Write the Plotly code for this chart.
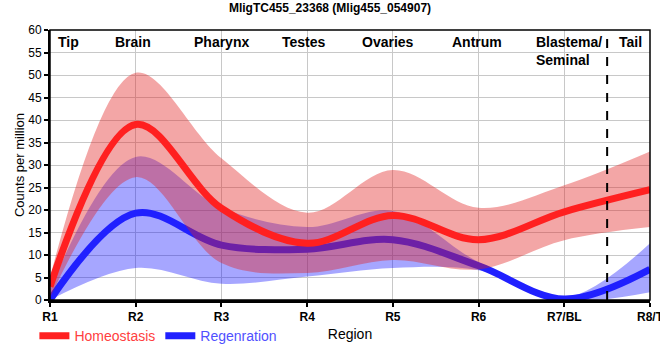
import plotly.graph_objects as go

regions = ["R1", "R2", "R3", "R4", "R5", "R6", "R7/BL", "R8/T"]
tissues = ["Tip", "Brain", "Pharynx", "Testes", "Ovaries", "Antrum", "Blastema/<br>Seminal", "Tail"]
tissue_pos = [0.22, 0.97, 2.0, 2.96, 3.94, 4.98, 5.65, 6.77]
tissue_anchor = ["center", "center", "center", "center", "center", "center", "left", "center"]

homeo_mean = [3.0, 39.0, 20.4, 12.6, 18.8, 13.4, 19.6, 24.5]
homeo_upper = [5.0, 50.5, 31.5, 19.4, 28.9, 20.5, 25.5, 33.0]
homeo_lower = [0.5, 27.3, 8.2, 6.0, 8.9, 6.8, 13.3, 16.2]

regen_mean = [0.0, 19.3, 12.2, 11.3, 13.4, 7.6, 0.2, 6.8]
regen_upper = [2.5, 31.8, 20.5, 16.2, 19.8, 8.4, 0.5, 12.6]
regen_lower = [0.0, 7.1, 3.6, 5.2, 7.1, 6.6, 0.0, 1.7]

xs = list(range(len(regions)))
font = "Liberation Sans, Arial, sans-serif"

fig = go.Figure()

# Regeneration band + line
fig.add_trace(go.Scatter(x=xs, y=regen_lower, mode="lines", line=dict(width=0, shape="spline"),
                         showlegend=False, hoverinfo="skip"))
fig.add_trace(go.Scatter(x=xs, y=regen_upper, mode="lines", line=dict(width=0, shape="spline"),
                         fill="tonexty", fillcolor="rgba(0,0,255,0.35)", showlegend=False, hoverinfo="skip"))
fig.add_trace(go.Scatter(x=xs, y=regen_mean, mode="lines",
                         name="<span style='color:#5050ff'>Regenration</span>",
                         line=dict(color="#2020ff", width=7, shape="spline"), legendrank=2))

# Homeostasis band + line
fig.add_trace(go.Scatter(x=xs, y=homeo_lower, mode="lines", line=dict(width=0, shape="spline"),
                         showlegend=False, hoverinfo="skip"))
fig.add_trace(go.Scatter(x=xs, y=homeo_upper, mode="lines", line=dict(width=0, shape="spline"),
                         fill="tonexty", fillcolor="rgba(225,32,32,0.4)", showlegend=False, hoverinfo="skip"))
fig.add_trace(go.Scatter(x=xs, y=homeo_mean, mode="lines",
                         name="<span style='color:#ff4040'>Homeostasis</span>",
                         line=dict(color="#ff2020", width=7, shape="spline"), legendrank=1))

annotations = []
for t, p, a in zip(tissues, tissue_pos, tissue_anchor):
    annotations.append(dict(x=p, y=59.6, xref="x", yref="y", text="<b>%s</b>" % t, showarrow=False,
                            xanchor=a, yanchor="top", align="left",
                            font=dict(family=font, size=14, color="black")))

shapes = [
    dict(type="line", xref="x", yref="paper", x0=6.5, x1=6.5, y0=0, y1=1,
         line=dict(color="black", width=2, dash="dash")),
    dict(type="rect", xref="paper", yref="paper", x0=0, x1=1, y0=0, y1=1,
         line=dict(color="black", width=1.5), layer="above"),
]

fig.update_layout(
    width=660, height=360,
    margin=dict(l=50, r=10, t=30, b=60, autoexpand=False),
    paper_bgcolor="white", plot_bgcolor="white",
    title=dict(text="<b>MligTC455_23368 (Mlig455_054907)</b>", x=0.5, xanchor="center",
               y=0.99, yanchor="top", font=dict(family=font, size=12, color="black")),
    font=dict(family=font, color="black"),
    showlegend=True,
    legend=dict(orientation="h", x=-0.026, xanchor="left", y=-0.075, yanchor="top",
                font=dict(family=font, size=14), itemwidth=30, bgcolor="rgba(0,0,0,0)",
                traceorder="normal"),
    annotations=annotations,
    shapes=shapes,
    xaxis=dict(range=[0, 7], tickmode="array", tickvals=xs,
               ticktext=["<b>%s</b>" % r for r in regions],
               tickfont=dict(family=font, size=12, color="black"),
               ticklabeloverflow="allow",
               showgrid=True, gridcolor="#c8c8c8", gridwidth=1,
               showline=True, linecolor="black", linewidth=3,
               ticks="outside", ticklen=4, tickwidth=1.5, tickcolor="black",
               zeroline=False, automargin=False,
               title=dict(text="Region", font=dict(family=font, size=14, color="black"), standoff=6)),
    yaxis=dict(range=[0, 60], tickmode="linear", tick0=0, dtick=5,
               tickfont=dict(family=font, size=12, color="black"),
               showgrid=True, gridcolor="#c8c8c8", gridwidth=1,
               showline=True, linecolor="black", linewidth=2,
               ticks="outside", ticklen=4, tickwidth=1.5, tickcolor="black",
               zeroline=False, automargin=False,
               title=dict(text="Counts per million", font=dict(family=font, size=13, color="black"), standoff=1)),
)

fig.write_html("out.html", config={"displayModeBar": False},
               post_script="document.body.style.margin='0';")
